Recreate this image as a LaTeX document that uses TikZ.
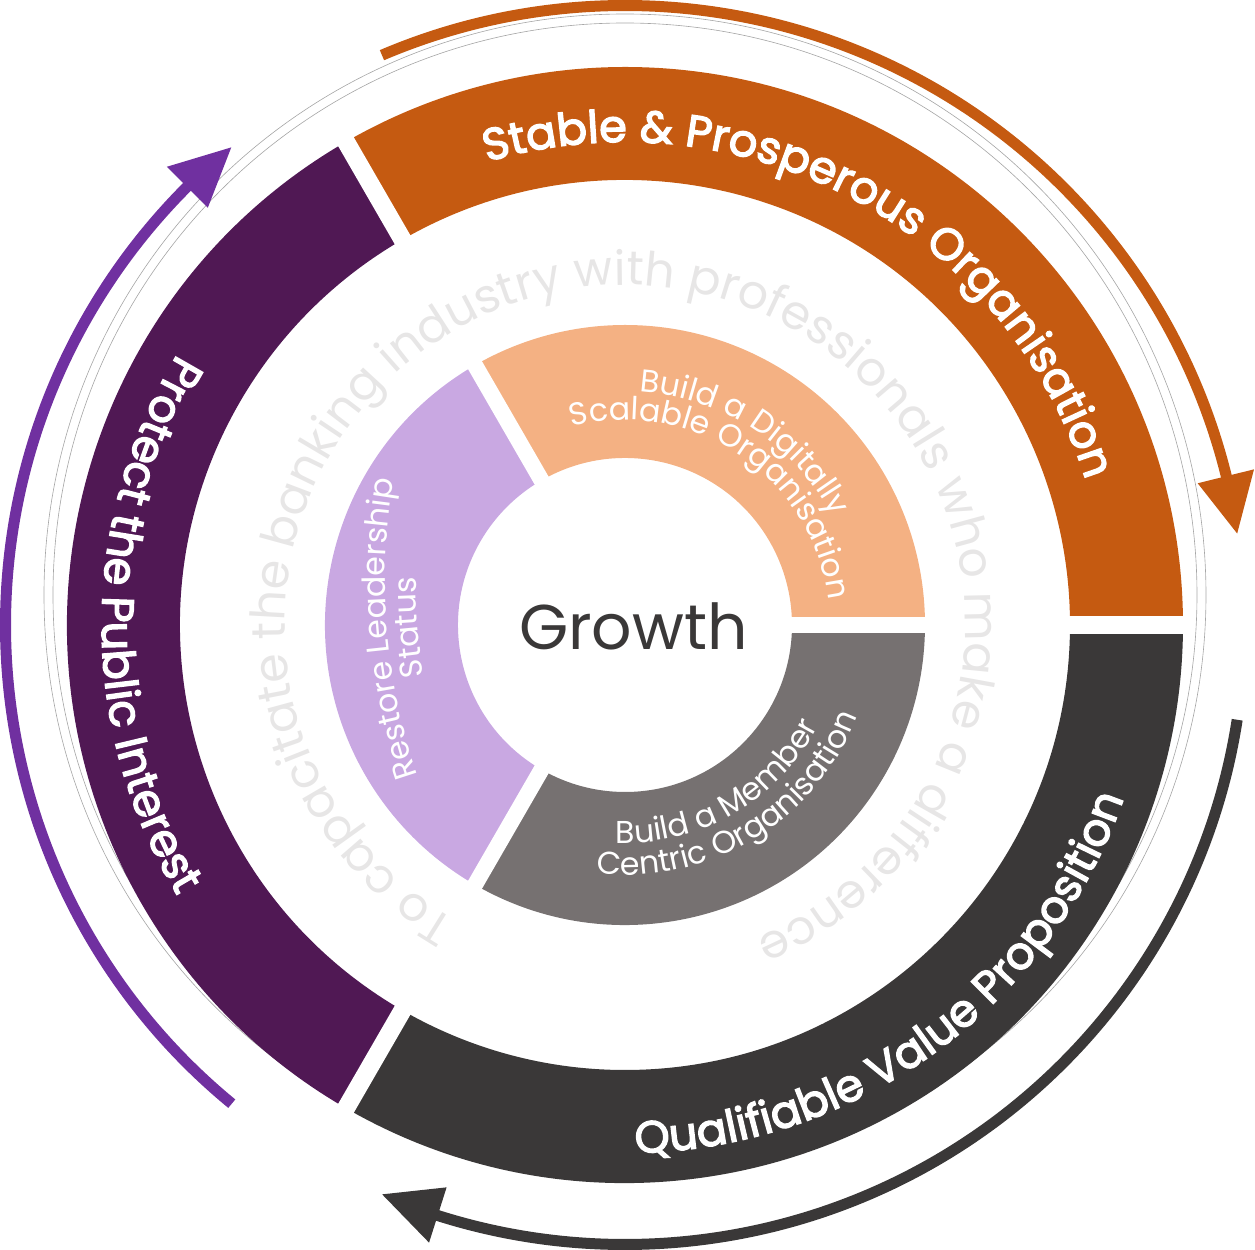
\documentclass[tikz,border=0pt]{standalone}
\usepackage{fontspec}
\setmainfont{Poppins}
\newfontfamily\labelface{Poppins}[FakeBold=3]
\usetikzlibrary{decorations.text}

\definecolor{stableorange}{HTML}{C55A11}
\definecolor{valuegray}{HTML}{3A3838}
\definecolor{publicpurple}{HTML}{501854}
\definecolor{arrowpurple}{HTML}{7030A0}
\definecolor{digitalpeach}{HTML}{F4B183}
\definecolor{membergray}{HTML}{767171}
\definecolor{leaderlilac}{HTML}{C9A8E2}
\definecolor{mottogray}{HTML}{E7E6E6}

\begin{document}
\begin{tikzpicture}[x=0.02cm,y=0.02cm]
	\def \ringout{558}
	\def \ringin{445}
	\def \coreout{300}
	\def \corein{167}
	\def \arrowr{619.5}
	\def \outerfont{\labelface\fontsize{25.5pt}{25.5pt}\selectfont}
	\def \corefont{\fontsize{18pt}{18pt}\selectfont}
	\def \mottofont{\fontsize{27pt}{27pt}\selectfont}
	\tikzstyle{shaft}=[line width=0.22cm]
	\tikzstyle{ring-gap}=[draw=white,line width=0.36cm]
	\tikzstyle{core-gap}=[draw=white,line width=0.32cm]
	\tikzstyle{guide}=[draw=black!35,line width=0.35pt]

	\useasboundingbox (-625,-625) rectangle (630,625);

	% faint guide circles
	\draw[guide] (0,30) circle[radius=572];
	\draw[guide] (0,30) circle[radius=581];

	% arrows round the ring
	\draw[shaft,stableorange] (113.1:\arrowr) arc[start angle=113.1,end angle=12.5,radius=\arrowr];
	\fill[stableorange] (13.9:590) -- (8.5:619) -- (13.9:648) -- cycle;
	\draw[shaft,valuegray] (-8.8:\arrowr) arc[start angle=-8.8,end angle=-109,radius=\arrowr];
	\fill[valuegray] (-107.6:590) -- (-113.1:619) -- (-107.6:648) -- cycle;
	\draw[shaft,arrowpurple] (230.6:\arrowr) arc[start angle=230.6,end angle=133.6,radius=\arrowr];
	\fill[arrowpurple] (135:590) -- (129.5:619) -- (135:648) -- cycle;

	% outer ring
	\fill[stableorange] (0:\ringout) arc[start angle=0,end angle=120,radius=\ringout]
		-- (120:\ringin) arc[start angle=120,end angle=0,radius=\ringin] -- cycle;
	\fill[publicpurple] (120:\ringout) arc[start angle=120,end angle=240,radius=\ringout]
		-- (240:\ringin) arc[start angle=240,end angle=120,radius=\ringin] -- cycle;
	\fill[valuegray] (240:\ringout) arc[start angle=240,end angle=360,radius=\ringout]
		-- (360:\ringin) arc[start angle=360,end angle=240,radius=\ringin] -- cycle;

	% inner ring
	\fill[digitalpeach] (0:\coreout) arc[start angle=0,end angle=120,radius=\coreout]
		-- (120:\corein) arc[start angle=120,end angle=0,radius=\corein] -- cycle;
	\fill[leaderlilac] (120:\coreout) arc[start angle=120,end angle=240,radius=\coreout]
		-- (240:\corein) arc[start angle=240,end angle=120,radius=\corein] -- cycle;
	\fill[membergray] (240:\coreout) arc[start angle=240,end angle=360,radius=\coreout]
		-- (360:\corein) arc[start angle=360,end angle=240,radius=\corein] -- cycle;

	% gaps
	\foreach \a in {0,120,240} {
		\draw[ring-gap] (\a:430) -- (\a:570);
		\draw[core-gap] (\a:150) -- (\a:310);
	}

	% motto round the middle
	\path[decorate,decoration={text along path,text align=center,
		text={|\color{mottogray}\mottofont|To capacitate the banking industry with professionals who make a difference}}]
		(256.4:340) arc[start angle=256.4,end angle=-83.6,radius=340];

	% outer labels
	\path[decorate,decoration={text along path,text align=center,
		text={|\color{white}\outerfont|Stable {\&} Prosperous Organisation}}]
		(122:483) arc[start angle=122,end angle=2,radius=483];
	\path[decorate,decoration={text along path,text align=center,
		text={|\color{white}\outerfont|Protect the Public Interest}}]
		(120:523) arc[start angle=120,end angle=240,radius=523];
	\path[decorate,decoration={text along path,text align=center,
		text={|\color{white}\outerfont|Qualifiable Value Proposition}}]
		(246:528) arc[start angle=246,end angle=366,radius=528];

	% inner labels
	\path[decorate,decoration={text along path,text align=center,
		text={|\color{white}\corefont|Build a Digitally}}]
		(117:234) arc[start angle=117,end angle=-3,radius=234];
	\path[decorate,decoration={text along path,text align=center,
		text={|\color{white}\corefont|Scalable Organisation}}]
		(116:205) arc[start angle=116,end angle=-4,radius=205];
	\path[decorate,decoration={text along path,text align=center,
		text={|\color{white}\corefont|Build a Member}}]
		(240:218) arc[start angle=240,end angle=360,radius=218];
	\path[decorate,decoration={text along path,text align=center,
		text={|\color{white}\corefont|Centric Organisation}}]
		(241:250) arc[start angle=241,end angle=361,radius=250];
	\path[shift={(360,44)},decorate,decoration={text along path,text align=center,
		text={|\color{white}\corefont|Restore Leadership}}]
		(209.6:600) arc[start angle=209.6,end angle=159.6,radius=600];
	\path[shift={(360,44)},decorate,decoration={text along path,text align=center,
		text={|\color{white}\corefont|Status}}]
		(209.6:569) arc[start angle=209.6,end angle=159.6,radius=569];

	% centre
	\node[text=valuegray,font=\fontsize{36pt}{36pt}\selectfont] (growth) at (8.5,-1.5) {Growth};
\end{tikzpicture}
\end{document}
